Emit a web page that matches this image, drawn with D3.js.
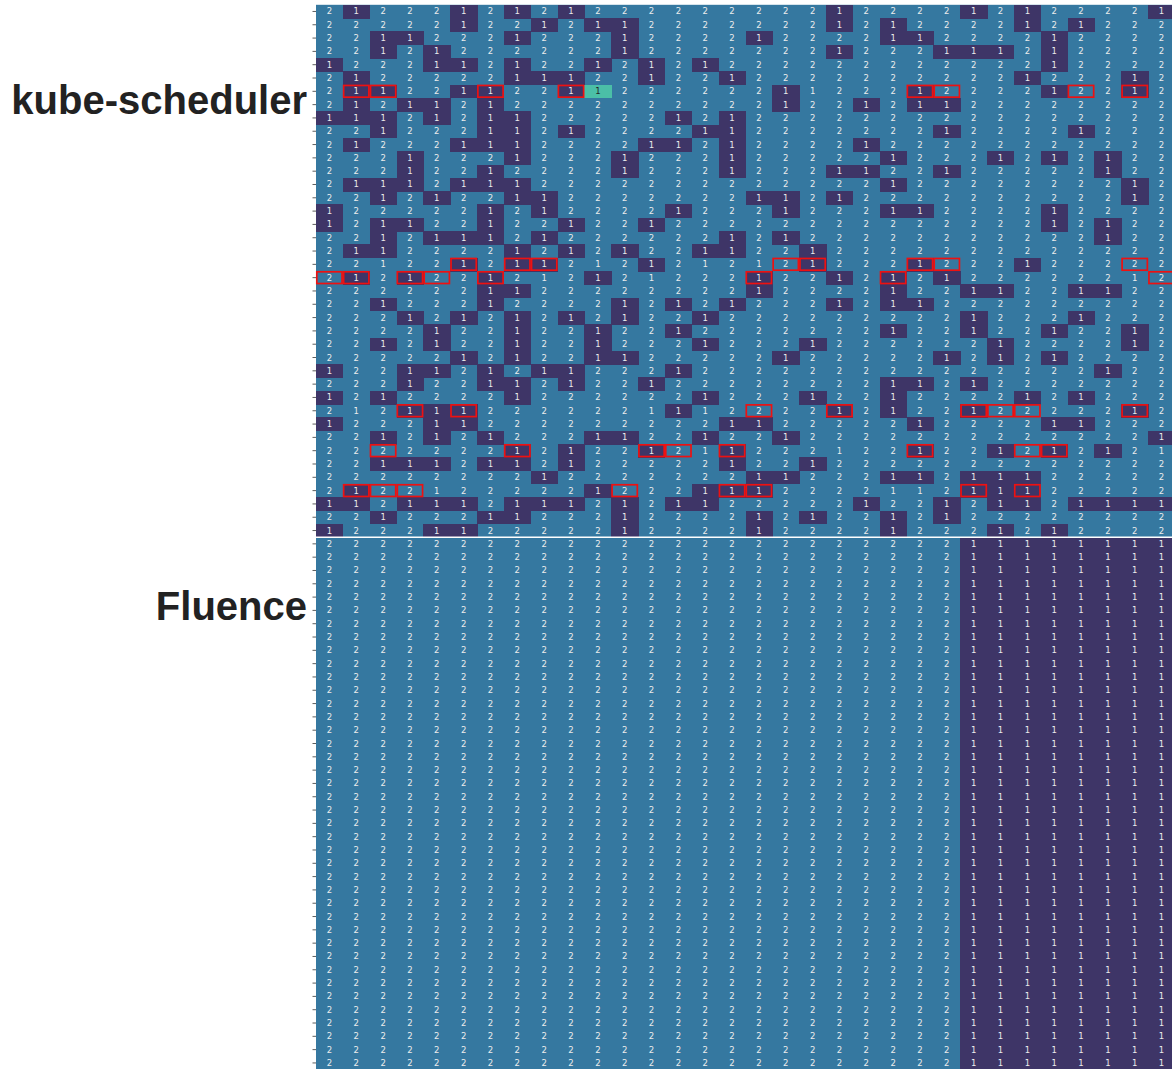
<!DOCTYPE html>
<html>
<head>
<meta charset="utf-8">
<script src="https://cdn.jsdelivr.net/npm/d3@7"></script>
<style>
  html, body { margin: 0; padding: 0; background: #fff; }
  svg { display: block; }
</style>
</head>
<body>
<svg id="chart" width="1172" height="1069"></svg>
<script>
// group labels on the y axis
var groups = ['kube-scheduler', 'Fluence']

// kube-scheduler: the number written in each cell
var kubeText = [
  '21222121212222222221222212122221',
  '22222122121122222221212222121222',
  '22112221222122221222211222212222',
  '22121222222122222221222111212222',
  '12221121221212122222222222212222',
  '21222221112212212222222222122212',
  '21122112211222222112221222212212',
  '21211212222222222122121122222222',
  '11121211222221212222222222222222',
  '22122211212222112222222122221222',
  '21222111222211212222122222222222',
  '22212221222122212222212221212122',
  '22212212222122212221122122222122',
  '21112111222222222222212222222212',
  '22121221122222221121222222222212',
  '12222212122221222122211222212222',
  '12112212212212222222222222212122',
  '22121112122222212122222222222122',
  '21122221212122112212222222222222',
  '22122121121212121212221222122222',
  '21212212121212221221212122222212',
  '22222211222222221222212211221122',
  '22122212222121212221211222222222',
  '22212121212122122222222212221222',
  '22221221221221222222212212212212',
  '22121221221222122212222221222212',
  '22222121221122222122222121212222',
  '12211212112221222222222222222122',
  '22212211212212222222211212222222',
  '12122221222222122212212222121222',
  '21211122222211122221212212222212',
  '12221122222222211222221222211222',
  '22121212221122122122222222222221',
  '22222221212212112221221221212121',
  '22111211212222212212222222222222',
  '22222222122222221122211211122222',
  '21221222221222111222211211122222',
  '11211121112121122222122121121111',
  '22122211222122221212212122222222',
  '12221122222122221222212221212222'
]

// kube-scheduler: the colour class of each cell (1 dark, 2 blue, 3 green)
var kubeColour = [
  '21222121212222222221222212122221',
  '22222122121122222221212222121222',
  '22112221222122221222211222212222',
  '22121222222122222221222111212222',
  '12221121221212122222222222212222',
  '21222221112212212222222222122212',
  '21122112213222222122221222212212',
  '21211212222222222122121122222222',
  '11121211222221212222222222222222',
  '22122211212222112222222122221222',
  '21222111222211212222122222222222',
  '22212221222122212222212221212122',
  '22212212222122212221122122222122',
  '21112111222222222222212222222212',
  '22121221122222221121222222222212',
  '12222212122221222122211222212222',
  '12112212212212222222222222212122',
  '22121112122222212122222222222122',
  '21122221212122112212222222222222',
  '22222121122212222212221222122222',
  '21212212221222221221212122222222',
  '22222211222222221222212211221122',
  '22122212222121212221211222222222',
  '22212121212122122222222212221222',
  '22221221221221222222212212212212',
  '22121221221222122212222221222212',
  '22222121221122222122222121212222',
  '12211212112221222222222222222122',
  '22212211212212222222211212222222',
  '12122221222222122212212222121222',
  '22211122222221222221212212222212',
  '12221122222222211222221222211222',
  '22121212221122122122222222222221',
  '22222221212212212222221221212122',
  '22111211212222212212222222222222',
  '22222222122222221122211211122222',
  '21222222221222111222222211122222',
  '11211121112121122222122121121111',
  '22122211222122221212212122222222',
  '12221122222122221222212221212222'
]

// Fluence: every cell's number (colour follows the number)
var fluenceText = [
  '22222222222222222222222211111111',
  '22222222222222222222222211111111',
  '22222222222222222222222211111111',
  '22222222222222222222222211111111',
  '22222222222222222222222211111111',
  '22222222222222222222222211111111',
  '22222222222222222222222211111111',
  '22222222222222222222222211111111',
  '22222222222222222222222211111111',
  '22222222222222222222222211111111',
  '22222222222222222222222211111111',
  '22222222222222222222222211111111',
  '22222222222222222222222211111111',
  '22222222222222222222222211111111',
  '22222222222222222222222211111111',
  '22222222222222222222222211111111',
  '22222222222222222222222211111111',
  '22222222222222222222222211111111',
  '22222222222222222222222211111111',
  '22222222222222222222222211111111',
  '22222222222222222222222211111111',
  '22222222222222222222222211111111',
  '22222222222222222222222211111111',
  '22222222222222222222222211111111',
  '22222222222222222222222211111111',
  '22222222222222222222222211111111',
  '22222222222222222222222211111111',
  '22222222222222222222222211111111',
  '22222222222222222222222211111111',
  '22222222222222222222222211111111',
  '22222222222222222222222211111111',
  '22222222222222222222222211111111',
  '22222222222222222222222211111111',
  '22222222222222222222222211111111',
  '22222222222222222222222211111111',
  '22222222222222222222222211111111',
  '22222222222222222222222211111111',
  '22222222222222222222222211111111',
  '22222222222222222222222211111111',
  '22222222222222222222222211111111'
]

// kube-scheduler cells outlined in red: [row, column]
var outlined = [
  [6, 1], [6, 2], [6, 6], [6, 9], [6, 22], [6, 23], [6, 28], [6, 30],
  [19, 5], [19, 7], [19, 8], [19, 17], [19, 18], [19, 22], [19, 23], [19, 30],
  [20, 0], [20, 1], [20, 3], [20, 4], [20, 6], [20, 16], [20, 21], [20, 31],
  [30, 3], [30, 5], [30, 16], [30, 19], [30, 24], [30, 25], [30, 26], [30, 30],
  [33, 2], [33, 7], [33, 12], [33, 13], [33, 15], [33, 22], [33, 26], [33, 27],
  [36, 1], [36, 2], [36, 3], [36, 11], [36, 15], [36, 16], [36, 24], [36, 26]
]

// row index where each group label sits
var groupLabelRow = [7, 45]

var svg = d3.select('#chart')

var nRows = kubeText.length + fluenceText.length
var nCols = kubeText[0].length

var x = d3.scaleBand()
  .domain(d3.range(nCols))
  .range([316, 1175])

var y = d3.scaleBand()
  .domain(d3.range(nRows))
  .range([4.8, 1069.6])

var colour = d3.scaleOrdinal()
  .domain(['1', '2', '3'])
  .range(['#3e3567', '#3578a0', '#4bbfa7'])

// flatten both blocks into one list of cells
var cells = []
kubeText.forEach(function(row, r) {
  row.split('').forEach(function(v, c) {
    cells.push({row: r, col: c, text: v, fill: kubeColour[r][c]})
  })
})
fluenceText.forEach(function(row, r) {
  row.split('').forEach(function(v, c) {
    cells.push({row: r + kubeText.length, col: c, text: v, fill: v})
  })
})

// plain background of the "2" colour so no seams show between cells
svg.append('rect')
  .attr('x', x.range()[0])
  .attr('y', y.range()[0])
  .attr('width', x.range()[1] - x.range()[0])
  .attr('height', y.range()[1] - y.range()[0])
  .attr('fill', colour('2'))

var g = svg.append('g')

g.selectAll('rect.cell')
  .data(cells.filter(function(d) { return d.fill !== '2' }))
  .enter().append('rect')
    .attr('class', 'cell')
    .attr('x', function(d) { return x(d.col) })
    .attr('y', function(d) { return y(d.row) })
    .attr('width', x.bandwidth() + 0.5)
    .attr('height', y.bandwidth() + 0.5)
    .attr('shape-rendering', 'crispEdges')
    .attr('fill', function(d) { return colour(d.fill) })

g.selectAll('text.val')
  .data(cells)
  .enter().append('text')
    .attr('class', 'val')
    .attr('x', function(d) { return x(d.col) + x.bandwidth() / 2 })
    .attr('y', function(d) { return y(d.row) + y.bandwidth() / 2 })
    .attr('text-anchor', 'middle')
    .attr('dominant-baseline', 'central')
    .attr('font-family', 'DejaVu Sans, sans-serif')
    .attr('font-size', '8.5px')
    .attr('fill', function(d) { return d.fill === '3' ? '#262626' : '#ececec' })
    .text(function(d) { return d.text })

// white line between the two groups
svg.append('line')
  .attr('x1', x.range()[0])
  .attr('x2', x.range()[1])
  .attr('y1', y(kubeText.length))
  .attr('y2', y(kubeText.length))
  .attr('stroke', '#fff')
  .attr('stroke-width', 1.5)

// red outlines
svg.selectAll('rect.box')
  .data(outlined)
  .enter().append('rect')
    .attr('class', 'box')
    .attr('x', function(d) { return x(d[1]) + 0.8 })
    .attr('y', function(d) { return y(d[0]) + 0.8 })
    .attr('width', x.bandwidth() - 1.6)
    .attr('height', y.bandwidth() - 1.6)
    .attr('fill', 'none')
    .attr('stroke', '#ee1111')
    .attr('stroke-width', 1.7)

// y axis: a tick per row, no numbers
var yAxis = d3.axisLeft(y).tickSize(3.5).tickFormat('')
var axisG = svg.append('g')
  .attr('transform', 'translate(316,0)')
  .call(yAxis)
axisG.select('.domain').remove()
axisG.selectAll('.tick line').attr('stroke', '#333').attr('stroke-width', 0.8)

// group labels
svg.selectAll('text.group')
  .data(groups)
  .enter().append('text')
    .attr('class', 'group')
    .attr('x', 307)
    .attr('y', function(d, i) { return y(groupLabelRow[i]) + y.bandwidth() / 2 + 9.5 })
    .attr('text-anchor', 'end')
    .attr('font-family', 'Liberation Sans, Arial, sans-serif')
    .attr('font-weight', 'bold')
    .attr('font-size', '40px')
    .attr('fill', '#222')
    .text(function(d) { return d })
</script>
</body>
</html>
